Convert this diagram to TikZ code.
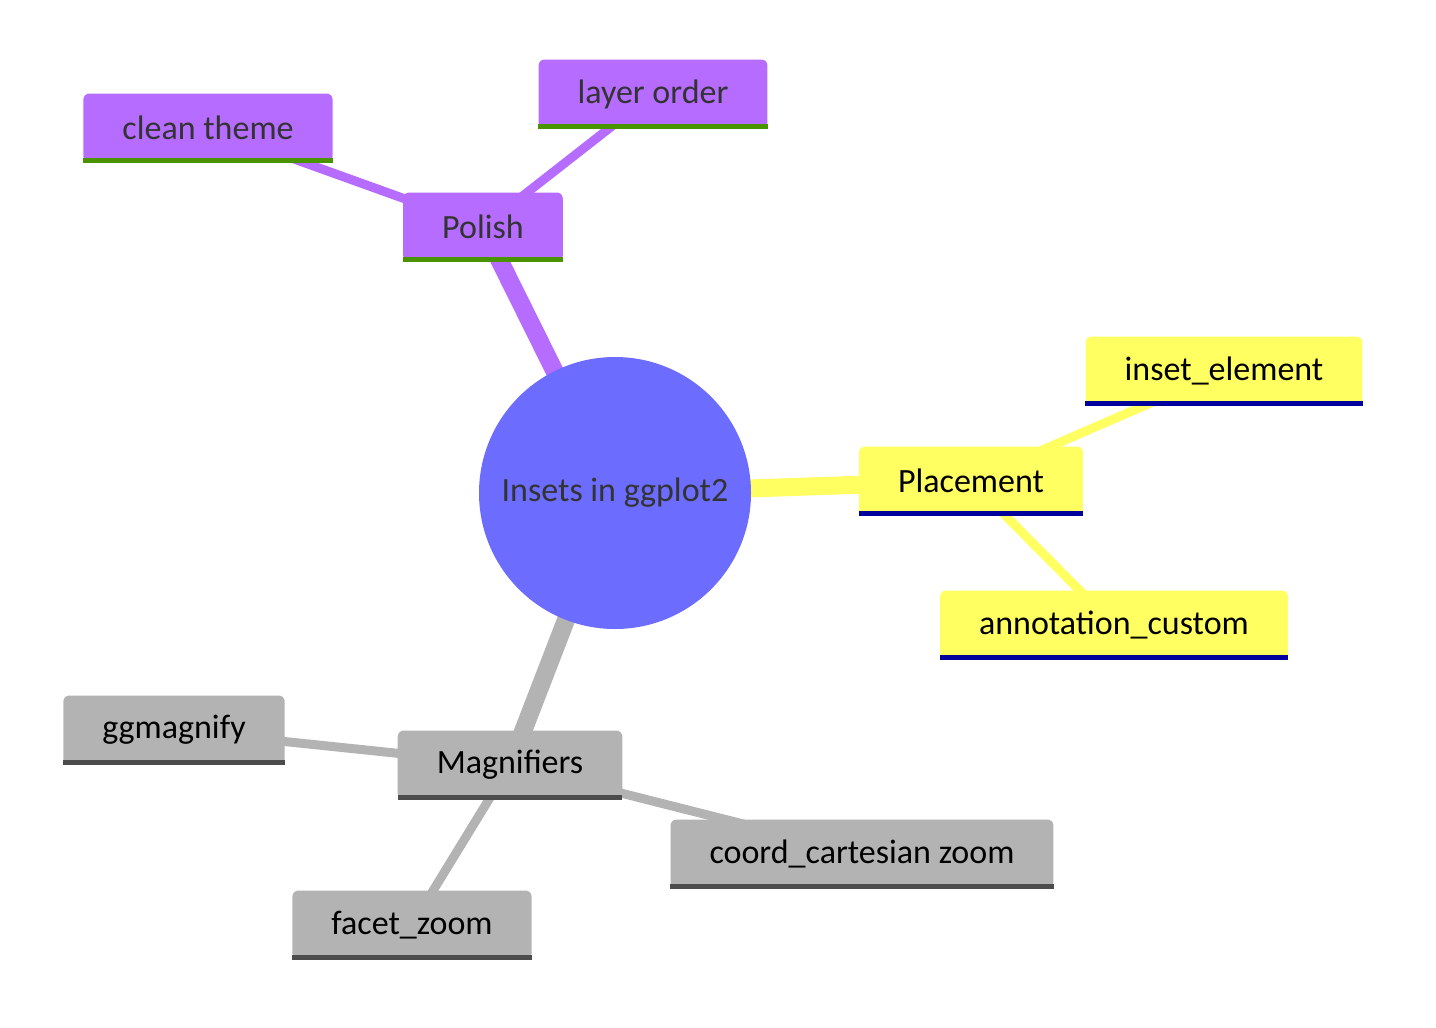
\documentclass[tikz,border=0pt]{standalone}
\usepackage{fontspec}
\setmainfont{Carlito}
\usetikzlibrary{backgrounds}
\definecolor{purp}{HTML}{B66CFF}
\definecolor{purpbar}{HTML}{4A9300}
\definecolor{yell}{HTML}{FFFF62}
\definecolor{yellbar}{HTML}{00009D}
\definecolor{gry}{HTML}{B3B3B3}
\definecolor{grybar}{HTML}{4C4C4C}
\definecolor{rootblue}{HTML}{6C6CFF}
\definecolor{darktext}{HTML}{333333}
\begin{document}
\begin{tikzpicture}[x=1pt,y=-1pt,
  box/.style={rounded corners=6pt, minimum height=69pt, inner xsep=39pt, inner ysep=0pt, font=\fontsize{34}{40}\selectfont},
  polishbox/.style={box, fill=purp, text=darktext},
  placebox/.style={box, fill=yell, text=black},
  magbox/.style={box, fill=gry, text=black},
  mainedge/.style={line width=18pt},
  subedge/.style={line width=9pt}]
   \useasboundingbox (0,0) rectangle (1436,1028);

   \node[circle, fill=rootblue, minimum size=272pt, text=darktext, font=\fontsize{34}{40}\selectfont] (root) at (615,493) {Insets in ggplot2};

   \node[polishbox] (polish) at (483,227) {Polish};
   \node[polishbox] (clean) at (208,128) {clean theme};
   \node[polishbox] (layer) at (653,94) {layer order};

   \node[placebox] (place) at (971,481) {Placement};
   \node[placebox] (inset) at (1224,371) {inset\_element};
   \node[placebox] (annot) at (1114,625) {annotation\_custom};

   \node[magbox] (mag) at (510,765) {Magnifiers};
   \node[magbox] (ggmag) at (174,730) {ggmagnify};
   \node[magbox] (coord) at (862,854) {coord\_cartesian zoom};
   \node[magbox] (facet) at (412,925) {facet\_zoom};

   \foreach \n/\c in {polish/purpbar, clean/purpbar, layer/purpbar, place/yellbar, inset/yellbar, annot/yellbar, mag/grybar, ggmag/grybar, coord/grybar, facet/grybar}
     \fill[\c] ([yshift=5pt]\n.south west) rectangle (\n.south east);

   \begin{scope}[on background layer]
   \draw[mainedge, purp] (root.center) -- (polish.center);
   \draw[subedge, purp] (polish.center) -- (clean.center);
   \draw[subedge, purp] (polish.center) -- (layer.center);
   \draw[mainedge, yell] (root.center) -- (place.center);
   \draw[subedge, yell] (place.center) -- (inset.center);
   \draw[subedge, yell] (place.center) -- (annot.center);
   \draw[mainedge, gry] (root.center) -- (mag.center);
   \draw[subedge, gry] (mag.center) -- (ggmag.center);
   \draw[subedge, gry] (mag.center) -- (coord.center);
   \draw[subedge, gry] (mag.center) -- (facet.center);
   \end{scope}
\end{tikzpicture}
\end{document}
